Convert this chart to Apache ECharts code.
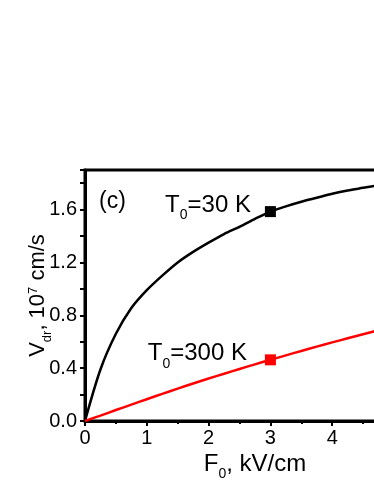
<!DOCTYPE html>
<html>
<head>
<meta charset="utf-8">
<script src="https://cdn.jsdelivr.net/npm/echarts@6/dist/echarts.min.js"></script>
<style>
html,body{margin:0;padding:0;background:#fff;}
#c{width:374px;height:484px;}
</style>
</head>
<body>
<div id="c"></div>
<script>
// Field F0 (kV/cm)
const fieldKV = [0, 0.25, 0.5, 0.75, 1, 1.25, 1.5, 1.75, 2, 2.25, 2.5, 2.75, 3, 3.25, 3.5, 3.75, 4, 4.25, 4.5, 4.75, 5];
// Drift velocity, 10^7 cm/s
const v30K  = [0, 0.39, 0.66, 0.855, 0.99, 1.10, 1.20, 1.28, 1.35, 1.415, 1.47, 1.53, 1.585, 1.625, 1.66, 1.69, 1.72, 1.745, 1.765, 1.785, 1.80];
const v300K = [0, 0.041, 0.083, 0.124, 0.165, 0.205, 0.245, 0.284, 0.322, 0.358, 0.394, 0.429, 0.463, 0.497, 0.53, 0.563, 0.595, 0.626, 0.657, 0.687, 0.715];
const markerField = 3;
const xTicks = [0, 1, 2, 3, 4, 5];
const yTicks = [0.0, 0.4, 0.8, 1.2, 1.6];
const label30 = 'T0=30 K';
const label300 = 'T0=300 K';
const panelLabel = '(c)';

const FONT = 'Liberation Sans, Arial, sans-serif';
const pair = (xs, ys) => xs.map((x, i) => [x, ys[i]]);
const at = (xs, ys, x) => [x, ys[xs.indexOf(x)]];

const subRich = {
  a: {fontSize: 24, lineHeight: 24, verticalAlign: 'top', fontFamily: FONT, color: '#000'},
  s: {fontSize: 14, lineHeight: 14, verticalAlign: 'top', padding: [15, 0, 0, 0], fontFamily: FONT, color: '#000'}
};
const tLabel = s => '{a|T}{s|0}{a|' + s.slice(2) + '}';

const chart = echarts.init(document.getElementById('c'), null, {renderer: 'canvas'});
const yLabelSet = yTicks.map(v => v.toFixed(1));

chart.setOption({
  animation: false,
  backgroundColor: '#fff',
  grid: {left: 85, top: 170, height: 251, width: 309, outerBoundsMode: 'none', containLabel: false,
         show: true, borderColor: '#000', borderWidth: 3, backgroundColor: 'transparent'},
  xAxis: {
    type: 'value', min: xTicks[0], max: xTicks[xTicks.length - 1], interval: 1,
    axisLine: {lineStyle: {color: '#000', width: 3}},
    axisTick: {length: 5, lineStyle: {width: 2, color: '#000'}},
    minorTick: {show: true, splitNumber: 2, length: 3, lineStyle: {width: 2, color: '#000'}},
    splitLine: {show: false},
    axisLabel: {fontSize: 20, fontFamily: FONT, color: '#000', margin: 7},
    name: '{a|F}{s|0}{a|, kV/cm}',
    nameLocation: 'middle', nameGap: 31, nameMoveOverlap: false,
    nameTextStyle: {rich: subRich, padding: [0, 0, 0, 31]}
  },
  yAxis: {
    type: 'value', min: 0, max: 1.9, interval: 0.2,
    axisLine: {lineStyle: {color: '#000', width: 3}},
    axisTick: {length: 5, lineStyle: {width: 2, color: '#000'}},
    splitLine: {show: false},
    axisLabel: {fontSize: 20, fontFamily: FONT, color: '#000', margin: 8,
      formatter: v => { const s = v.toFixed(1); return yLabelSet.indexOf(s) >= 0 ? s : ''; }},
    name: '{a|V}{s|dr}{a|, 10}{p|7}{a| cm/s}',
    nameLocation: 'middle', nameGap: 36, nameMoveOverlap: false,
    nameTextStyle: {rich: {
      a: {fontSize: 22, lineHeight: 22, verticalAlign: 'top', fontFamily: FONT, color: '#000'},
      s: {fontSize: 13, lineHeight: 13, verticalAlign: 'top', padding: [14, 0, 0, 0], fontFamily: FONT, color: '#000'},
      p: {fontSize: 13, lineHeight: 13, verticalAlign: 'top', padding: [0, 0, 0, 0], fontFamily: FONT, color: '#000'}
    }}
  },
  graphic: [{
    type: 'text', left: 99, top: 190,
    style: {text: panelLabel, font: '23px ' + FONT, fill: '#000'}
  }],
  series: [
    {type: 'line', data: pair(fieldKV, v30K), showSymbol: false, smooth: 0.3,
     lineStyle: {color: '#000', width: 2.5}, z: 3},
    {type: 'line', data: pair(fieldKV, v300K), showSymbol: false, smooth: 0.3,
     lineStyle: {color: '#ff0000', width: 2.5}, z: 3},
    {type: 'scatter', data: [at(fieldKV, v30K, markerField)], symbol: 'rect', symbolSize: 11,
     itemStyle: {color: '#000', opacity: 1}, z: 4,
     label: {show: true, position: 'left', distance: 14, offset: [0, -6], formatter: tLabel(label30), rich: subRich}},
    {type: 'scatter', data: [at(fieldKV, v300K, markerField)], symbol: 'rect', symbolSize: 11,
     itemStyle: {color: '#ff0000', opacity: 1}, z: 4,
     label: {show: true, position: 'left', distance: 18, offset: [0, -6], formatter: tLabel(label300), rich: subRich}}
  ]
});
</script>
</body>
</html>
